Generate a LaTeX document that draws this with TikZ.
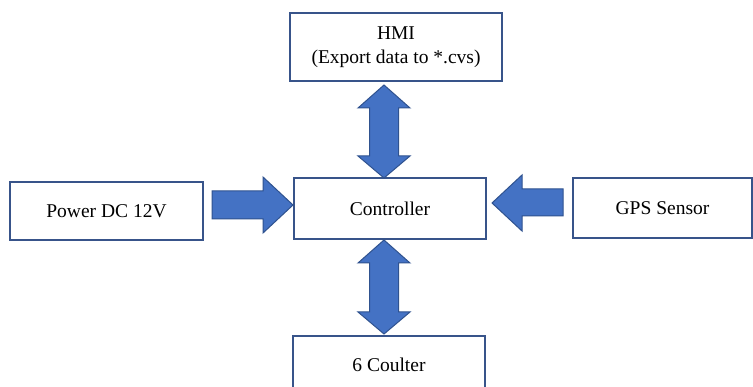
\documentclass[tikz,border=0pt]{standalone}
\usepackage{fontspec}
\setmainfont{Liberation Serif}
\definecolor{boxline}{RGB}{56,84,138}
\definecolor{arrfill}{RGB}{68,114,196}
\definecolor{arrline}{RGB}{47,82,143}
\tikzset{
  box/.style={draw=boxline, line width=1.4pt, fill=white, rectangle, inner sep=0pt, align=center,
    font=\fontsize{19.5}{24}\selectfont},
  blockarrow/.style={draw=arrline, fill=arrfill, line width=1pt, line join=miter}
}
\begin{document}
\begin{tikzpicture}[x=1pt,y=-1pt]
\useasboundingbox (0,0) rectangle (753,387);
\clip (0,0) rectangle (753,387);
\fill[white] (0,0) rectangle (753,387);
% boxes
\node[box, minimum width=212pt, minimum height=68pt] (hmi) at (396,47) {HMI\\(Export data to *.cvs)};
\node[box, minimum width=192pt, minimum height=61pt] (ctrl) at (390,208.5) {Controller};
\node[box, minimum width=193pt, minimum height=58pt] (pwr) at (106.5,211) {Power DC 12V};
\node[box, minimum width=179pt, minimum height=60pt] (gps) at (662.5,208) {GPS Sensor};
\node[box, minimum width=192pt, minimum height=58pt] (coul) at (389,365) {6 Coulter};
% HMI <-> Controller
\draw[blockarrow] (384,85) -- (410,108) -- (398.5,108) -- (398.5,156) -- (410,156) -- (384,178)
  -- (358,156) -- (369.5,156) -- (369.5,108) -- (358,108) -- cycle;
% Controller <-> 6 Coulter
\draw[blockarrow] (384,240) -- (410,263) -- (398.5,263) -- (398.5,312) -- (410,312) -- (384,334)
  -- (358,312) -- (369.5,312) -- (369.5,263) -- (358,263) -- cycle;
% Power -> Controller
\draw[blockarrow] (212,191) -- (263,191) -- (263,177) -- (293,205) -- (263,233) -- (263,219)
  -- (212,219) -- cycle;
% GPS -> Controller
\draw[blockarrow] (563,189) -- (522,189) -- (522,175) -- (492,203) -- (522,231) -- (522,216)
  -- (563,216) -- cycle;
\end{tikzpicture}
\end{document}
